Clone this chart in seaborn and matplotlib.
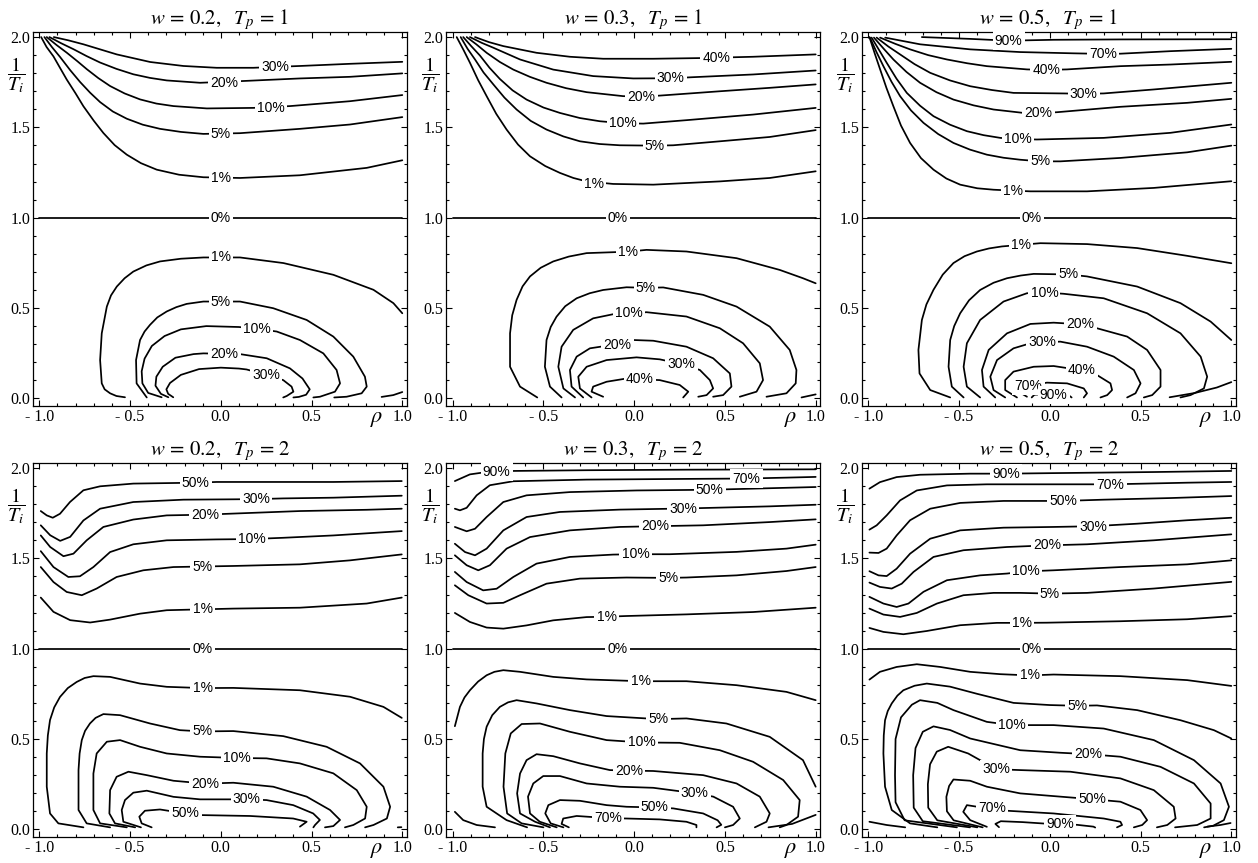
import matplotlib
matplotlib.use("Agg")
import matplotlib.pyplot as plt
import matplotlib.transforms as mtransforms
from matplotlib.ticker import MultipleLocator
import seaborn as sns

# ---------------- data (rho, 1/Ti) ----------------
# each entry: (level, rho values, 1/Ti values)

w02_tp1 = [
    ("30%", [-0.92, -0.84, -0.757, -0.573, -0.389, -0.206, -0.023, 0.179, 0.436, 0.712, 1.0],
            [2.0, 1.982, 1.96, 1.904, 1.862, 1.84, 1.83, 1.83, 1.84, 1.852, 1.863]),
    ("20%", [-0.944, -0.88, -0.812, -0.74, -0.665, -0.575, -0.482, -0.39, -0.298, -0.114, 0.106,
             0.436, 0.712, 1.0],
            [2.0, 1.966, 1.933, 1.895, 1.859, 1.824, 1.794, 1.774, 1.76, 1.747, 1.756,
             1.771, 1.78, 1.799]),
    ("10%", [-0.959, -0.905, -0.848, -0.79, -0.738, -0.675, -0.61, -0.53, -0.445, -0.355, -0.261,
             -0.077, 0.18, 0.382, 0.712, 1.0],
            [2.0, 1.956, 1.913, 1.866, 1.822, 1.773, 1.729, 1.688, 1.655, 1.632, 1.618,
             1.605, 1.608, 1.618, 1.645, 1.679]),
    ("5%", [-0.972, -0.93, -0.885, -0.83, -0.775, -0.72, -0.665, -0.595, -0.518, -0.43, -0.335,
            -0.22, -0.096, 0.106, 0.436, 0.712, 1.0],
           [2.0, 1.944, 1.889, 1.817, 1.751, 1.692, 1.64, 1.588, 1.548, 1.515, 1.492,
            1.475, 1.464, 1.468, 1.492, 1.516, 1.557]),
    ("1%", [-0.99, -0.96, -0.922, -0.885, -0.849, -0.80, -0.757, -0.70, -0.647, -0.585, -0.518,
            -0.44, -0.353, -0.23, -0.096, 0.106, 0.436, 0.804, 1.0],
           [2.0, 1.945, 1.893, 1.828, 1.765, 1.688, 1.617, 1.537, 1.469, 1.402, 1.349,
            1.302, 1.266, 1.238, 1.224, 1.22, 1.235, 1.276, 1.318]),
    ("0%", [-1.0, 1.0], [1.0, 1.0]),
    ("1%", [-0.528, -0.575, -0.61, -0.64, -0.656, -0.665, -0.656, -0.628, -0.605, -0.573, -0.53,
            -0.482, -0.41, -0.335, -0.22, -0.096, 0.106, 0.345, 0.62, 0.841, 0.951, 1.0],
           [0.006, 0.013, 0.028, 0.05, 0.083, 0.212, 0.36, 0.508, 0.57, 0.619, 0.665,
            0.702, 0.736, 0.758, 0.773, 0.78, 0.78, 0.749, 0.684, 0.601, 0.527, 0.471]),
    ("1%", [0.886, 0.95, 1.0], [0.008, 0.018, 0.035]),
    ("5%", [-0.408, -0.464, -0.467, -0.445, -0.42, -0.39, -0.35, -0.298, -0.245, -0.188, -0.096,
            0.106, 0.289, 0.473, 0.62, 0.73, 0.794, 0.804, 0.776, 0.693, 0.625],
           [0.005, 0.083, 0.212, 0.323, 0.37, 0.407, 0.448, 0.481, 0.505, 0.523, 0.536,
            0.536, 0.499, 0.434, 0.342, 0.231, 0.12, 0.065, 0.028, 0.009, 0.005]),
    ("10%", [-0.326, -0.4, -0.432, -0.436, -0.42, -0.38, -0.31, -0.22, -0.08, 0.1, 0.2, 0.308,
             0.436, 0.565, 0.638, 0.657, 0.629, 0.546, 0.51],
            [0.006, 0.03, 0.083, 0.15, 0.22, 0.29, 0.345, 0.382, 0.4, 0.395, 0.385, 0.37,
             0.323, 0.249, 0.157, 0.083, 0.037, 0.009, 0.005]),
    ("20%", [-0.289, -0.33, -0.36, -0.355, -0.32, -0.25, -0.15, -0.096, 0.106, 0.253, 0.381,
             0.45, 0.49, 0.47, 0.43, 0.40],
            [0.006, 0.025, 0.07, 0.12, 0.175, 0.225, 0.245, 0.249, 0.245, 0.222, 0.166,
             0.11, 0.05, 0.02, 0.008, 0.005]),
    ("30%", [-0.262, -0.29, -0.30, -0.28, -0.22, -0.12, 0.0, 0.1, 0.142, 0.25, 0.344, 0.39,
             0.40, 0.363, 0.344],
            [0.006, 0.025, 0.05, 0.085, 0.13, 0.162, 0.17, 0.165, 0.16, 0.13, 0.101, 0.065,
             0.037, 0.013, 0.005]),
]
lab_w02_tp1 = [("30%", 0.298, 1.834), ("20%", 0.02, 1.748), ("10%", 0.275, 1.608),
               ("5%", 0.0, 1.462), ("1%", 0.0, 1.22), ("0%", 0.0, 1.0), ("1%", 0.0, 0.78),
               ("5%", 0.0, 0.536), ("10%", 0.198, 0.385), ("20%", 0.02, 0.244),
               ("30%", 0.25, 0.13)]

w03_tp1 = [
    ("40%", [-0.877, -0.80, -0.721, -0.538, -0.354, -0.171, 0.105, 0.38, 0.655, 1.0],
            [2.0, 1.972, 1.95, 1.913, 1.891, 1.88, 1.88, 1.884, 1.891, 1.904]),
    ("30%", [-0.905, -0.84, -0.776, -0.629, -0.446, -0.226, -0.005, 0.201, 0.325, 0.655, 1.0],
            [2.0, 1.968, 1.941, 1.876, 1.82, 1.784, 1.771, 1.772, 1.778, 1.793, 1.815]),
    ("20%", [-0.923, -0.87, -0.813, -0.74, -0.666, -0.575, -0.483, -0.375, -0.262, -0.061, 0.04,
             0.141, 0.472, 0.747, 1.0],
            [2.0, 1.96, 1.913, 1.862, 1.82, 1.78, 1.747, 1.717, 1.695, 1.673, 1.671,
             1.676, 1.70, 1.719, 1.738]),
    ("10%", [-0.942, -0.898, -0.85, -0.797, -0.74, -0.67, -0.593, -0.50, -0.409, -0.30, -0.189,
             -0.06, 0.05, 0.288, 0.655, 1.0],
            [2.0, 1.95, 1.898, 1.83, 1.768, 1.705, 1.654, 1.61, 1.58, 1.552, 1.534,
             1.523, 1.521, 1.54, 1.571, 1.608]),
    ("5%", [-0.956, -0.918, -0.877, -0.83, -0.776, -0.715, -0.648, -0.57, -0.483, -0.39, -0.299,
            -0.19, -0.079, 0.114, 0.215, 0.472, 0.747, 1.0],
           [2.0, 1.935, 1.876, 1.804, 1.738, 1.665, 1.599, 1.536, 1.488, 1.45, 1.423,
            1.408, 1.401, 1.399, 1.401, 1.423, 1.447, 1.485]),
    ("1%", [-0.978, -0.94, -0.905, -0.86, -0.813, -0.76, -0.703, -0.64, -0.574, -0.49, -0.409,
            -0.335, -0.262, -0.116, 0.105, 0.472, 0.747, 1.0],
           [2.0, 1.928, 1.858, 1.762, 1.673, 1.575, 1.488, 1.405, 1.34, 1.286, 1.248,
            1.22, 1.201, 1.187, 1.183, 1.201, 1.22, 1.257]),
    ("0%", [-1.0, 1.0], [1.0, 1.0]),
    ("1%", [-0.534, -0.629, -0.684, -0.684, -0.672, -0.648, -0.615, -0.574, -0.515, -0.446,
            -0.36, -0.262, -0.033, 0.068, 0.288, 0.564, 0.802, 0.93, 1.0],
           [0.005, 0.065, 0.175, 0.36, 0.46, 0.545, 0.62, 0.675, 0.723, 0.758,
            0.785, 0.804, 0.812, 0.822, 0.813, 0.776, 0.711, 0.665, 0.637]),
    ("1%", [0.922, 1.0], [0.005, 0.022]),
    ("5%", [-0.40, -0.464, -0.492, -0.483, -0.46, -0.428, -0.38, -0.317, -0.245, -0.171, -0.042,
            0.065, 0.16, 0.38, 0.564, 0.747, 0.857, 0.894, 0.89, 0.839, 0.729],
           [0.005, 0.065, 0.175, 0.323, 0.395, 0.452, 0.51, 0.554, 0.582, 0.6, 0.615,
            0.612, 0.614, 0.573, 0.508, 0.397, 0.268, 0.157, 0.083, 0.028, 0.009]),
    ("10%", [-0.326, -0.39, -0.418, -0.40, -0.336, -0.226, -0.115, -0.027, 0.068, 0.288, 0.472,
             0.60, 0.692, 0.71, 0.674, 0.582],
            [0.005, 0.055, 0.175, 0.286, 0.379, 0.443, 0.466, 0.47, 0.477, 0.453, 0.388,
             0.305, 0.194, 0.101, 0.037, 0.009]),
    ("20%", [-0.281, -0.345, -0.354, -0.317, -0.244, -0.093, -0.005, 0.105, 0.288, 0.435, 0.527,
             0.536, 0.49, 0.435],
            [0.005, 0.065, 0.157, 0.231, 0.277, 0.3, 0.323, 0.319, 0.286, 0.222, 0.138,
             0.065, 0.018, 0.009]),
    ("30%", [-0.235, -0.299, -0.308, -0.262, -0.152, 0.013, 0.141, 0.26, 0.362, 0.417, 0.435,
             0.399, 0.353],
            [0.005, 0.055, 0.12, 0.175, 0.212, 0.227, 0.216, 0.19, 0.157, 0.101, 0.055,
             0.018, 0.009]),
    ("40%", [-0.171, -0.235, -0.226, -0.152, -0.042, 0.031, 0.141, 0.251, 0.298, 0.27],
            [0.009, 0.037, 0.065, 0.092, 0.11, 0.106, 0.101, 0.074, 0.037, 0.005]),
]
lab_w03_tp1 = [("40%", 0.453, 1.886), ("30%", 0.201, 1.771), ("20%", 0.04, 1.671),
               ("10%", -0.06, 1.522), ("5%", 0.114, 1.399), ("1%", -0.222, 1.187),
               ("0%", -0.09, 1.0), ("1%", -0.033, 0.81), ("5%", 0.065, 0.612),
               ("10%", -0.027, 0.47), ("20%", -0.093, 0.298), ("30%", 0.26, 0.19),
               ("40%", 0.031, 0.105)]

w05_tp1 = [
    ("90%", [-0.705, -0.439, -0.227, 0.021, 0.389, 1.0],
            [2.0, 1.99, 1.98, 1.985, 1.987, 1.988]),
    ("70%", [-0.907, -0.715, -0.439, -0.163, 0.132, 0.293, 0.389, 0.665, 1.0],
            [1.997, 1.96, 1.932, 1.917, 1.91, 1.907, 1.908, 1.922, 1.935]),
    ("40%", [-0.935, -0.85, -0.77, -0.67, -0.567, -0.455, -0.347, -0.126, -0.02, 0.095, 0.389,
             0.665, 1.0],
            [1.997, 1.962, 1.932, 1.9, 1.876, 1.855, 1.839, 1.821, 1.818, 1.821, 1.839,
             1.848, 1.863]),
    ("30%", [-0.954, -0.89, -0.825, -0.745, -0.659, -0.55, -0.439, -0.32, -0.2, 0.076, 0.187,
             0.297, 0.573, 1.0],
            [1.997, 1.948, 1.904, 1.85, 1.802, 1.76, 1.728, 1.707, 1.691, 1.688, 1.686,
             1.688, 1.71, 1.747]),
    ("20%", [-0.969, -0.915, -0.862, -0.79, -0.715, -0.625, -0.531, -0.42, -0.31, -0.144, -0.062,
             0.039, 0.389, 0.757, 1.0],
            [1.997, 1.935, 1.876, 1.807, 1.747, 1.695, 1.654, 1.622, 1.599, 1.58, 1.58,
             1.584, 1.614, 1.636, 1.658]),
    ("10%", [-0.982, -0.94, -0.899, -0.845, -0.788, -0.715, -0.641, -0.55, -0.457, -0.365, -0.273,
             -0.177, -0.071, 0.297, 0.665, 1.0],
            [1.997, 1.927, 1.858, 1.77, 1.691, 1.62, 1.562, 1.515, 1.479, 1.457, 1.442,
             1.435, 1.433, 1.442, 1.47, 1.516]),
    ("5%", [-0.991, -0.955, -0.917, -0.872, -0.825, -0.765, -0.696, -0.615, -0.531, -0.44, -0.347,
            -0.255, -0.163, -0.052, 0.058, 0.389, 0.757, 1.0],
           [1.997, 1.917, 1.839, 1.752, 1.673, 1.594, 1.525, 1.463, 1.414, 1.377, 1.349,
            1.332, 1.321, 1.312, 1.312, 1.331, 1.362, 1.399]),
    ("1%", [-0.994, -0.965, -0.935, -0.9, -0.862, -0.82, -0.77, -0.71, -0.641, -0.57, -0.494,
            -0.40, -0.31, -0.203, -0.107, 0.205, 0.573, 1.0],
           [2.0, 1.91, 1.821, 1.718, 1.617, 1.51, 1.414, 1.33, 1.266, 1.217, 1.183,
            1.163, 1.155, 1.15, 1.146, 1.146, 1.165, 1.202]),
    ("0%", [-1.0, 1.0], [1.0, 1.0]),
    ("1%", [-0.549, -0.659, -0.718, -0.724, -0.705, -0.68, -0.641, -0.59, -0.531, -0.47, -0.402,
            -0.335, -0.264, -0.158, -0.052, 0.205, 0.481, 0.757, 1.0],
           [0.005, 0.046, 0.138, 0.268, 0.434, 0.52, 0.601, 0.685, 0.749, 0.787, 0.813,
            0.83, 0.841, 0.85, 0.859, 0.854, 0.832, 0.789, 0.748]),
    ("5%", [-0.475, -0.54, -0.558, -0.549, -0.527, -0.494, -0.445, -0.384, -0.31, -0.236, -0.16,
            -0.089, 0.104, 0.205, 0.481, 0.72, 0.886, 1.0],
           [0.005, 0.065, 0.175, 0.323, 0.40, 0.471, 0.543, 0.6, 0.64, 0.665, 0.68,
            0.689, 0.686, 0.675, 0.619, 0.527, 0.425, 0.323]),
    ("5%", [0.66, 0.80, 0.92, 1.0], [0.006, 0.03, 0.06, 0.09]),
    ("10%", [-0.384, -0.457, -0.475, -0.457, -0.384, -0.255, -0.126, -0.03, 0.076, 0.297, 0.536,
             0.72, 0.831, 0.867, 0.849, 0.775, 0.72],
            [0.005, 0.065, 0.175, 0.305, 0.434, 0.536, 0.582, 0.586, 0.579, 0.554, 0.471,
             0.36, 0.231, 0.12, 0.055, 0.018, 0.005]),
    ("20%", [-0.301, -0.365, -0.374, -0.337, -0.236, -0.107, 0.021, 0.168, 0.26, 0.426, 0.536,
             0.61, 0.61, 0.564, 0.518],
            [0.005, 0.065, 0.157, 0.268, 0.36, 0.412, 0.419, 0.41, 0.388, 0.342, 0.268,
             0.157, 0.065, 0.018, 0.005]),
    ("30%", [-0.246, -0.31, -0.328, -0.291, -0.2, -0.107, -0.043, 0.058, 0.205, 0.352, 0.463,
             0.5, 0.472, 0.426],
            [0.005, 0.046, 0.12, 0.212, 0.277, 0.305, 0.31, 0.314, 0.286, 0.231, 0.157,
             0.083, 0.028, 0.005]),
    ("40%", [-0.181, -0.246, -0.246, -0.2, -0.089, 0.021, 0.177, 0.26, 0.334, 0.343, 0.316, 0.279],
            [0.005, 0.046, 0.101, 0.148, 0.175, 0.179, 0.155, 0.129, 0.083, 0.046, 0.018, 0.005]),
    ("70%", [-0.126, -0.172, -0.163, -0.117, -0.016, 0.095, 0.187, 0.205, 0.187],
            [0.009, 0.037, 0.065, 0.07, 0.087, 0.083, 0.055, 0.028, 0.005]),
    ("90%", [-0.10, -0.085, 0.0, 0.10, 0.12], [0.005, 0.02, 0.025, 0.02, 0.005]),
]
lab_w05_tp1 = [("90%", -0.227, 1.98), ("70%", 0.293, 1.907), ("40%", -0.02, 1.818),
               ("30%", 0.187, 1.686), ("20%", -0.062, 1.58), ("10%", -0.177, 1.435),
               ("5%", -0.052, 1.312), ("1%", -0.203, 1.15), ("0%", -0.098, 1.0),
               ("1%", -0.158, 0.85), ("5%", 0.104, 0.686), ("10%", -0.03, 0.586),
               ("20%", 0.168, 0.41), ("30%", -0.043, 0.31), ("40%", 0.177, 0.155),
               ("70%", -0.117, 0.07), ("90%", 0.021, 0.02)]

w02_tp2 = [
    ("50%", [-0.992, -0.959, -0.926, -0.886, -0.831, -0.757, -0.665, -0.482, -0.138, -0.023, 0.252,
             0.62, 0.997],
            [1.762, 1.738, 1.725, 1.747, 1.812, 1.877, 1.899, 1.914, 1.919, 1.923, 1.923,
             1.923, 1.928]),
    ("30%", [-0.992, -0.94, -0.885, -0.83, -0.757, -0.665, -0.482, -0.206, 0.069, 0.194, 0.344,
             0.62, 0.997],
            [1.683, 1.628, 1.597, 1.619, 1.71, 1.775, 1.812, 1.825, 1.827, 1.828, 1.832,
             1.836, 1.847]),
    ("20%", [-0.992, -0.94, -0.867, -0.812, -0.739, -0.647, -0.482, -0.298, -0.084, 0.069, 0.436,
             0.804, 0.997],
            [1.627, 1.563, 1.512, 1.526, 1.6, 1.674, 1.715, 1.738, 1.742, 1.748, 1.762,
             1.769, 1.775]),
    ("10%", [-0.992, -0.922, -0.84, -0.776, -0.702, -0.61, -0.482, -0.298, -0.023, 0.17, 0.344,
             0.62, 0.997],
            [1.54, 1.452, 1.397, 1.401, 1.452, 1.535, 1.578, 1.6, 1.605, 1.607, 1.614,
             1.627, 1.651]),
    ("5%", [-0.992, -0.922, -0.849, -0.766, -0.684, -0.574, -0.427, -0.261, -0.1, 0.069, 0.436,
            0.712, 0.997],
           [1.452, 1.369, 1.314, 1.296, 1.333, 1.397, 1.434, 1.452, 1.455, 1.458, 1.467,
            1.489, 1.522]),
    ("1%", [-0.992, -0.922, -0.83, -0.72, -0.61, -0.445, -0.298, -0.1, 0.069, 0.436, 0.804, 0.997],
           [1.283, 1.204, 1.158, 1.145, 1.161, 1.194, 1.213, 1.218, 1.222, 1.227, 1.25, 1.283]),
    ("0%", [-1.0, 1.0], [1.0, 1.0]),
    ("1%", [-0.757, -0.895, -0.941, -0.959, -0.959, -0.953, -0.941, -0.918, -0.886, -0.843,
            -0.794, -0.75, -0.702, -0.61, -0.445, -0.298, -0.1, 0.069, 0.436, 0.712, 0.896, 0.997],
           [0.011, 0.033, 0.088, 0.236, 0.42, 0.52, 0.605, 0.675, 0.733, 0.782,
            0.816, 0.838, 0.848, 0.844, 0.807, 0.789, 0.782, 0.783, 0.77, 0.734, 0.678, 0.617]),
    ("1%", [0.975, 0.995], [0.011, 0.012]),
    ("5%", [-0.61, -0.739, -0.784, -0.784, -0.778, -0.766, -0.748, -0.721, -0.69, -0.647, -0.555,
            -0.39, -0.225, -0.1, 0.069, 0.344, 0.583, 0.767, 0.896, 0.933, 0.915, 0.841, 0.795],
           [0.011, 0.033, 0.107, 0.328, 0.42, 0.494, 0.545, 0.586, 0.617, 0.638, 0.632,
            0.586, 0.549, 0.542, 0.544, 0.516, 0.457, 0.365, 0.236, 0.125, 0.06, 0.024, 0.011]),
    ("10%", [-0.518, -0.665, -0.702, -0.702, -0.684, -0.628, -0.555, -0.445, -0.298, -0.114, 0.091,
             0.252, 0.436, 0.62, 0.749, 0.804, 0.795, 0.73, 0.684],
            [0.011, 0.033, 0.107, 0.309, 0.42, 0.485, 0.494, 0.457, 0.42, 0.402, 0.395,
             0.393, 0.365, 0.31, 0.217, 0.125, 0.06, 0.024, 0.011]),
    ("20%", [-0.472, -0.583, -0.614, -0.61, -0.574, -0.509, -0.408, -0.261, -0.084, 0.069, 0.289,
             0.473, 0.602, 0.657, 0.62, 0.574],
            [0.011, 0.033, 0.088, 0.217, 0.291, 0.319, 0.3, 0.269, 0.253, 0.258, 0.236,
             0.181, 0.107, 0.052, 0.018, 0.011]),
    ("30%", [-0.44, -0.537, -0.546, -0.528, -0.482, -0.408, -0.261, -0.114, 0.143, 0.252, 0.399,
             0.509, 0.546, 0.519, 0.51],
            [0.011, 0.042, 0.107, 0.162, 0.203, 0.214, 0.18, 0.166, 0.166, 0.162, 0.134,
             0.088, 0.052, 0.024, 0.011]),
    ("50%", [-0.381, -0.436, -0.449, -0.418, -0.335, -0.195, -0.114, 0.161, 0.399, 0.473, 0.436],
            [0.011, 0.033, 0.07, 0.103, 0.11, 0.088, 0.079, 0.074, 0.06, 0.042, 0.015]),
]
lab_w02_tp2 = [("50%", -0.138, 1.919), ("30%", 0.194, 1.828), ("20%", -0.084, 1.742),
               ("10%", 0.17, 1.607), ("5%", -0.1, 1.455), ("1%", -0.1, 1.218),
               ("0%", -0.1, 1.0), ("1%", -0.1, 0.782), ("5%", -0.1, 0.542),
               ("10%", 0.091, 0.395), ("20%", -0.084, 0.253), ("30%", 0.143, 0.166),
               ("50%", -0.195, 0.088)]

w03_tp2 = [
    ("90%", [-0.988, -0.905, -0.813, -0.758, -0.666, -0.262, 0.288, 1.0],
            [1.928, 1.965, 1.978, 1.98, 1.984, 1.988, 1.991, 1.993]),
    ("70%", [-0.988, -0.96, -0.923, -0.868, -0.795, -0.666, -0.262, 0.288, 0.619, 0.839, 1.0],
            [1.775, 1.766, 1.78, 1.849, 1.905, 1.927, 1.936, 1.94, 1.942, 1.947, 1.951]),
    ("50%", [-0.988, -0.923, -0.877, -0.813, -0.721, -0.593, -0.354, 0.013, 0.417, 0.655, 1.0],
            [1.674, 1.65, 1.664, 1.729, 1.812, 1.849, 1.867, 1.876, 1.88, 1.886, 1.895]),
    ("30%", [-0.988, -0.932, -0.877, -0.813, -0.721, -0.593, -0.409, -0.079, 0.27, 0.472, 0.747, 1.0],
            [1.581, 1.535, 1.517, 1.554, 1.655, 1.729, 1.757, 1.77, 1.776, 1.781, 1.788, 1.797]),
    ("20%", [-0.988, -0.923, -0.859, -0.795, -0.703, -0.574, -0.354, -0.079, 0.114, 0.38, 0.747, 1.0],
            [1.517, 1.462, 1.434, 1.462, 1.554, 1.618, 1.655, 1.674, 1.678, 1.683, 1.701, 1.716]),
    ("10%", [-0.988, -0.923, -0.832, -0.758, -0.666, -0.538, -0.354, -0.116, 0.007, 0.196, 0.564,
             0.839, 1.0],
            [1.425, 1.369, 1.323, 1.332, 1.397, 1.471, 1.508, 1.521, 1.523, 1.523, 1.536,
             1.554, 1.576]),
    ("5%", [-0.988, -0.914, -0.813, -0.721, -0.629, -0.483, -0.299, -0.042, 0.187, 0.288, 0.564,
            0.839, 1.0],
           [1.351, 1.296, 1.25, 1.254, 1.296, 1.36, 1.388, 1.394, 1.392, 1.394, 1.406,
            1.43, 1.452]),
    ("1%", [-0.988, -0.905, -0.813, -0.721, -0.593, -0.446, -0.262, -0.152, -0.042, 0.288, 0.655, 1.0],
           [1.198, 1.148, 1.117, 1.111, 1.129, 1.157, 1.175, 1.177, 1.181, 1.19, 1.203, 1.227]),
    ("0%", [-1.0, 1.0], [1.0, 1.0]),
    ("1%", [-0.988, -0.96, -0.935, -0.905, -0.86, -0.813, -0.77, -0.721, -0.629, -0.446, -0.262,
            0.036, 0.288, 0.564, 0.839, 1.0],
           [0.571, 0.678, 0.73, 0.77, 0.818, 0.853, 0.872, 0.881, 0.872, 0.844, 0.83,
            0.82, 0.82, 0.798, 0.761, 0.715]),
    ("1%", [-0.988, -0.942, -0.868, -0.767], [0.097, 0.051, 0.024, 0.011]),
    ("5%", [-0.59, -0.703, -0.813, -0.835, -0.835, -0.828, -0.813, -0.782, -0.74, -0.695, -0.648,
            -0.538, -0.354, -0.152, 0.133, 0.288, 0.508, 0.747, 0.93, 1.0],
           [0.011, 0.051, 0.125, 0.236, 0.42, 0.50, 0.568, 0.632, 0.678, 0.703, 0.715,
            0.697, 0.66, 0.627, 0.61, 0.614, 0.586, 0.512, 0.383, 0.236]),
    ("5%", [0.74, 0.87, 1.0], [0.011, 0.03, 0.08]),
    ("10%", [-0.50, -0.62, -0.70, -0.72, -0.71, -0.68, -0.62, -0.519, -0.354, -0.152, 0.04,
             0.251, 0.472, 0.655, 0.821, 0.912, 0.903, 0.839, 0.802],
            [0.011, 0.033, 0.088, 0.236, 0.42, 0.531, 0.583, 0.586, 0.54, 0.494, 0.481,
             0.479, 0.438, 0.374, 0.273, 0.162, 0.07, 0.024, 0.011]),
    ("20%", [-0.464, -0.546, -0.629, -0.645, -0.629, -0.593, -0.538, -0.446, -0.299, -0.134,
             -0.029, 0.105, 0.38, 0.564, 0.692, 0.747, 0.729, 0.665],
            [0.011, 0.042, 0.088, 0.199, 0.309, 0.383, 0.416, 0.405, 0.365, 0.328,
             0.325, 0.323, 0.3, 0.254, 0.181, 0.088, 0.042, 0.011]),
    ("30%", [-0.427, -0.52, -0.574, -0.585, -0.556, -0.501, -0.409, -0.262, -0.079, 0.105, 0.334,
             0.436, 0.545, 0.582, 0.545, 0.50],
            [0.011, 0.042, 0.088, 0.181, 0.254, 0.295, 0.295, 0.254, 0.236, 0.23, 0.2,
             0.181, 0.125, 0.06, 0.024, 0.011]),
    ("50%", [-0.39, -0.46, -0.49, -0.473, -0.409, -0.299, -0.152, -0.042, 0.114, 0.215, 0.38,
             0.46, 0.48, 0.454],
            [0.011, 0.033, 0.088, 0.134, 0.162, 0.158, 0.134, 0.125, 0.121, 0.116, 0.088,
             0.05, 0.025, 0.011]),
    ("70%", [-0.36, -0.40, -0.391, -0.317, -0.143, -0.042, 0.141, 0.288, 0.343, 0.343],
            [0.011, 0.03, 0.06, 0.074, 0.062, 0.06, 0.055, 0.042, 0.024, 0.011]),
]
lab_w03_tp2 = [("90%", -0.758, 1.98), ("70%", 0.619, 1.942), ("50%", 0.417, 1.88),
               ("30%", 0.27, 1.776), ("20%", 0.114, 1.678), ("10%", 0.007, 1.523),
               ("5%", 0.187, 1.392), ("1%", -0.152, 1.177), ("0%", -0.093, 1.0),
               ("1%", 0.036, 0.82), ("5%", 0.133, 0.61), ("10%", 0.04, 0.481),
               ("20%", -0.029, 0.325), ("30%", 0.334, 0.2), ("50%", 0.114, 0.121),
               ("70%", -0.143, 0.062)]

w05_tp2 = [
    ("90%", [-0.994, -0.936, -0.844, -0.715, -0.439, -0.24, 0.021, 0.573, 1.0],
            [1.886, 1.922, 1.95, 1.963, 1.969, 1.969, 1.972, 1.978, 1.984]),
    ("70%", [-0.994, -0.954, -0.899, -0.825, -0.733, -0.567, -0.347, 0.021, 0.334, 0.481, 0.757, 1.0],
            [1.659, 1.683, 1.738, 1.821, 1.876, 1.904, 1.91, 1.91, 1.91, 1.913, 1.919, 1.923]),
    ("50%", [-0.994, -0.944, -0.899, -0.844, -0.77, -0.659, -0.494, -0.255, 0.076, 0.297, 0.665, 1.0],
            [1.532, 1.53, 1.554, 1.627, 1.711, 1.775, 1.807, 1.818, 1.818, 1.825, 1.834, 1.845]),
    ("30%", [-0.994, -0.944, -0.899, -0.844, -0.77, -0.659, -0.494, -0.255, 0.021, 0.238, 0.481,
             0.757, 1.0],
            [1.429, 1.406, 1.402, 1.443, 1.526, 1.609, 1.655, 1.67, 1.674, 1.678, 1.692,
             1.711, 1.725]),
    ("20%", [-0.994, -0.936, -0.871, -0.816, -0.751, -0.641, -0.476, -0.236, -0.016, 0.205, 0.573, 1.0],
            [1.366, 1.342, 1.333, 1.36, 1.425, 1.508, 1.545, 1.563, 1.572, 1.578, 1.6, 1.633]),
    ("10%", [-0.994, -0.917, -0.844, -0.779, -0.696, -0.567, -0.384, -0.236, -0.131, 0.021, 0.389,
             0.757, 1.0],
            [1.287, 1.25, 1.231, 1.25, 1.315, 1.379, 1.406, 1.416, 1.428, 1.434, 1.452,
             1.467, 1.489]),
    ("5%", [-0.994, -0.917, -0.825, -0.733, -0.622, -0.476, -0.31, -0.163, 0.0, 0.205, 0.573, 1.0],
           [1.222, 1.189, 1.176, 1.198, 1.25, 1.296, 1.309, 1.309, 1.305, 1.309, 1.333, 1.37]),
    ("1%", [-0.994, -0.917, -0.807, -0.678, -0.494, -0.292, -0.154, -0.016, 0.389, 0.757, 1.0],
           [1.115, 1.093, 1.08, 1.098, 1.13, 1.143, 1.143, 1.144, 1.152, 1.163, 1.18]),
    ("0%", [-1.0, 1.0], [1.0, 1.0]),
    ("1%", [-0.994, -0.936, -0.844, -0.733, -0.604, -0.439, -0.273, -0.111, 0.021, 0.389, 0.757, 1.0],
           [0.829, 0.872, 0.899, 0.914, 0.899, 0.872, 0.859, 0.852, 0.857, 0.848, 0.826, 0.794]),
    ("1%", [-0.994, -0.899, -0.797], [0.042, 0.024, 0.011]),
    ("1%", [0.868, 0.94, 0.996], [0.015, 0.024, 0.035]),
    ("5%", [-0.62, -0.77, -0.871, -0.908, -0.917, -0.915, -0.908, -0.893, -0.871, -0.84, -0.807,
            -0.745, -0.678, -0.55, -0.40, -0.2, 0.0, 0.15, 0.26, 0.481, 0.72, 0.904, 1.0],
           [0.011, 0.033, 0.107, 0.236, 0.42, 0.52, 0.604, 0.655, 0.697, 0.74, 0.77,
            0.795, 0.807, 0.79, 0.75, 0.70, 0.688, 0.684, 0.686, 0.66, 0.604, 0.549, 0.503]),
    ("10%", [-0.512, -0.80, -0.85, -0.853, -0.85, -0.82, -0.76, -0.715, -0.62, -0.531, -0.347,
             -0.209, 0.021, 0.297, 0.573, 0.794, 0.941, 0.987, 0.959, 0.90, 0.85],
            [0.011, 0.05, 0.15, 0.3, 0.5, 0.62, 0.69, 0.715, 0.70, 0.66, 0.595,
             0.577, 0.577, 0.558, 0.494, 0.383, 0.254, 0.125, 0.051, 0.02, 0.011]),
    ("20%", [-0.44, -0.70, -0.75, -0.753, -0.74, -0.70, -0.641, -0.55, -0.439, -0.163, 0.058,
             0.214, 0.389, 0.61, 0.794, 0.886, 0.886, 0.812, 0.69],
            [0.011, 0.045, 0.12, 0.3, 0.45, 0.54, 0.57, 0.55, 0.503, 0.438, 0.424,
             0.416, 0.402, 0.346, 0.254, 0.143, 0.06, 0.024, 0.011]),
    ("30%", [-0.40, -0.62, -0.67, -0.672, -0.66, -0.623, -0.56, -0.45, -0.295, -0.163, 0.113,
             0.389, 0.573, 0.683, 0.693, 0.647, 0.59],
            [0.011, 0.05, 0.12, 0.25, 0.36, 0.43, 0.457, 0.42, 0.333, 0.328, 0.319,
             0.282, 0.217, 0.125, 0.06, 0.024, 0.011]),
    ("50%", [-0.37, -0.53, -0.567, -0.57, -0.555, -0.531, -0.439, -0.347, -0.163, 0.021, 0.232,
             0.389, 0.499, 0.536, 0.509, 0.463],
            [0.011, 0.05, 0.10, 0.18, 0.24, 0.276, 0.269, 0.236, 0.199, 0.184, 0.167,
             0.153, 0.107, 0.051, 0.024, 0.011]),
    ("70%", [-0.347, -0.439, -0.477, -0.457, -0.40, -0.319, -0.236, 0.021, 0.297, 0.389, 0.398, 0.37],
            [0.014, 0.051, 0.097, 0.134, 0.125, 0.116, 0.103, 0.088, 0.06, 0.042, 0.024, 0.011]),
    ("90%", [-0.28, -0.30, -0.27, -0.15, 0.0, 0.15, 0.24, 0.25],
            [0.012, 0.03, 0.045, 0.04, 0.03, 0.025, 0.015, 0.01]),
]
lab_w05_tp2 = [("90%", -0.24, 1.969), ("70%", 0.334, 1.907), ("50%", 0.076, 1.815),
               ("30%", 0.238, 1.676), ("20%", -0.016, 1.572), ("10%", -0.131, 1.43),
               ("5%", 0.0, 1.305), ("1%", -0.154, 1.143), ("0%", -0.098, 1.0),
               ("1%", -0.111, 0.852), ("5%", 0.15, 0.684), ("10%", -0.209, 0.577),
               ("20%", 0.214, 0.418), ("30%", -0.295, 0.333), ("50%", 0.232, 0.167),
               ("70%", -0.319, 0.118), ("90%", 0.058, 0.028)]

titles = [r"$w\,=\,0.2,\ \ T_p\,=\,1$", r"$w\,=\,0.3,\ \ T_p\,=\,1$",
          r"$w\,=\,0.5,\ \ T_p\,=\,1$", r"$w\,=\,0.2,\ \ T_p\,=\,2$",
          r"$w\,=\,0.3,\ \ T_p\,=\,2$", r"$w\,=\,0.5,\ \ T_p\,=\,2$"]
panels = [(w02_tp1, lab_w02_tp1), (w03_tp1, lab_w03_tp1), (w05_tp1, lab_w05_tp1),
          (w02_tp2, lab_w02_tp2), (w03_tp2, lab_w03_tp2), (w05_tp2, lab_w05_tp2)]

xtick_vals = [-1.0, -0.5, 0.0, 0.5, 1.0]
xtick_text = ["- 1.0", "- 0.5", "0.0", "0.5", "1.0"]
ytick_vals = [0.0, 0.5, 1.0, 1.5, 2.0]
ytick_text = ["0.0", "0.5", "1.0", "1.5", "2.0"]

# ---------------- style ----------------
sns.set_theme(style="ticks")
plt.rcParams["font.family"] = ["Liberation Serif", "DejaVu Serif"]
plt.rcParams["mathtext.fontset"] = "stix"
plt.rcParams["axes.edgecolor"] = "black"
plt.rcParams["axes.linewidth"] = 0.9
plt.rcParams["text.color"] = "black"
plt.rcParams["xtick.color"] = "black"
plt.rcParams["ytick.color"] = "black"

fig = plt.figure(figsize=(12.58, 8.63), dpi=100)

lefts = [0.0262, 0.3548, 0.6852]
bottoms = [0.5294, 0.0300]
width, height = 0.2972, 0.4335

for i, ((lines, labels), title) in enumerate(zip(panels, titles)):
    ax = fig.add_axes([lefts[i % 3], bottoms[i // 3], width, height])
    for level, xs, ys in lines:
        sns.lineplot(x=xs, y=ys, sort=False, estimator=None, color="black",
                     linewidth=1.25, ax=ax, solid_joinstyle="round")
    for text, lx, ly in labels:
        ax.text(lx, ly, text, ha="center", va="center", fontsize=10,
                family="Liberation Sans", zorder=5,
                bbox=dict(facecolor="white", edgecolor="none", pad=1.6))

    ax.set_xlim(-1.035, 1.025)
    ax.set_ylim(-0.043, 2.028)
    ax.set_xticks(xtick_vals)
    ax.set_xticklabels(xtick_text)
    ax.set_yticks(ytick_vals)
    ax.set_yticklabels(ytick_text)
    ax.xaxis.set_minor_locator(MultipleLocator(0.1))
    ax.yaxis.set_minor_locator(MultipleLocator(0.1))
    ax.tick_params(which="both", direction="in", top=True, right=True,
                   bottom=True, left=True, labelsize=11.5, pad=2, width=0.8)
    ax.tick_params(which="major", length=4.5)
    ax.tick_params(which="minor", length=2.5)
    ax.set_xlabel("")
    ax.set_ylabel("")
    ax.set_title(title, fontsize=15, pad=3)

    ytrans = mtransforms.blended_transform_factory(ax.transAxes, ax.transData)
    ax.text(-0.045, 1.79, r"$\dfrac{1}{T_i}$", transform=ytrans, fontsize=14.5,
            ha="center", va="center")
    xtrans = mtransforms.blended_transform_factory(ax.transData, ax.transAxes)
    ax.text(0.86, -0.035, r"$\rho$", transform=xtrans, fontsize=16,
            ha="center", va="center")

fig.savefig("out.png", dpi=100)
plt.close(fig)
